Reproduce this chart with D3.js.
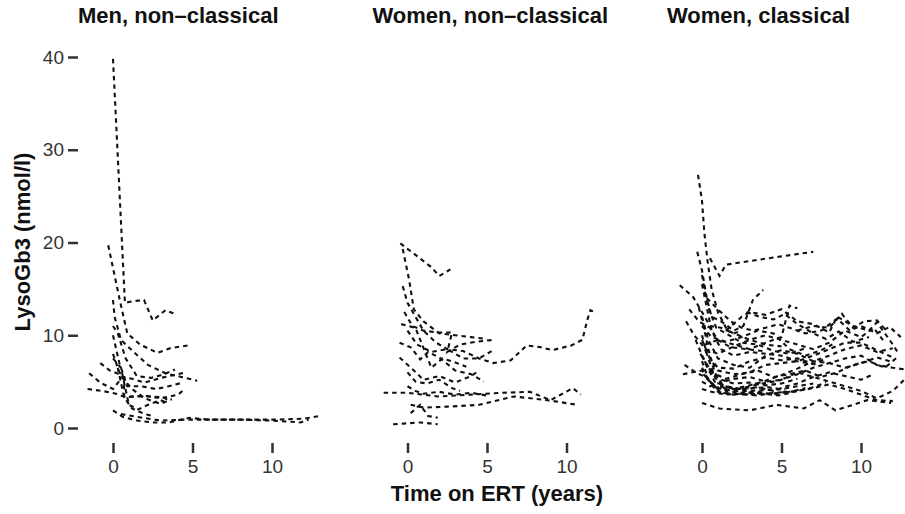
<!DOCTYPE html>
<html>
<head>
<meta charset="utf-8">
<script src="https://cdn.jsdelivr.net/npm/d3@7"></script>
<style>
    body { margin: 0; background: #fff; }
    svg { font-family: 'Liberation Sans', Arial, Helvetica, sans-serif; }
    .tick line { stroke: #333; stroke-width: 2.5; }
    .tick text { fill: #333; font-size: 19px; }
    .title { font-weight: bold; font-size: 22px; fill: #111; }
    .subject { fill: none; stroke: #111; stroke-width: 2.1; stroke-dasharray: 4.5,4; }
</style>
</head>
<body>
<div id="chart"></div>
<script>
(function(){
    'use strict';

    // each subject: [years on ERT, lysoGb3 nmol/l]
    var menNonClassical = [
        [[0,39.8],[0.75,13.5],[1.4,13.7],[1.95,13.8],[2.5,11.6],[3.3,12.7],[3.9,12.3]],
        [[-0.3,19.7],[0.45,13.6],[0.9,10.2],[1.7,9.0],[2.8,8.1],[3.6,8.6],[4.7,8.9]],
        [[0,13.8],[0.1,12],[0.5,9.5],[1.3,8.2],[2.2,6.8],[3.3,5.9],[4.3,5.5],[5.3,5.1]],
        [[0,11],[0.3,10.2],[0.8,7.5],[1.5,5.6],[2.4,5.4],[3.2,5.8],[3.9,6.3]],
        [[-1.5,5.9],[-0.8,4.9],[0,4.2],[0.6,5.5],[1.2,5.3],[2,4.9],[3,5.4],[4.6,6.0]],
        [[-1.6,4.2],[-0.7,4.0],[0.2,3.7],[0.8,3.3],[2,3.5],[3,3.2],[4.1,3.6],[4.5,4.2]],
        [[0,8],[0.4,6],[0.7,5.5],[0.7,3.4],[1.3,3.4],[2.2,3.4],[3.2,3.3],[3.6,2.8]],
        [[0,7.5],[0.5,6.5],[1,2.5],[1.6,2],[2.2,2.5],[3,3],[3.4,2.7]],
        [[0,1.9],[0.6,1.2],[1.5,0.8],[2.5,0.6],[3.5,0.6],[4.8,1.1],[6,0.9],[8,0.9],[10,0.9],[12,1.0],[13,1.3]],
        [[0.5,1.5],[1.5,1.2],[3,0.8],[4.5,0.9],[6,0.9],[8,0.9],[10,0.8],[11.8,0.6],[12.3,0.9]],
        [[0,10],[0.4,7],[0.9,4.5],[1.8,4.5],[2.7,4.2],[3.5,4.5],[4.4,4.9]],
        [[0.3,6.5],[0.7,3.3],[1.2,2.1],[2,1.5],[2.5,1.3]],
        [[-0.8,7],[-0.2,6.2],[0.4,5.8],[1.2,4.2],[2,3.2],[3,2.6],[3.7,3.1]]
    ];

    var womenNonClassical = [
        [[-0.45,19.9],[0.4,18.8],[1.45,17.4],[2,16.4],[2.7,17.1]],
        [[-0.3,19.3],[0.1,16],[0.4,12.8],[1,11.5],[2,10.2],[3,10],[4,9.8],[5,9.6]],
        [[-0.3,15.3],[0,13.5],[0.5,12],[1,10.5],[1.8,9.2],[2.5,8.5],[3.5,8.3],[4.5,7.5],[5.4,7.0],[6.5,7.3],[7.5,8.9],[8.4,8.7],[9.1,8.4],[10.3,8.9],[11,9.5],[11.3,11.6],[11.5,12.7],[11.9,12.4]],
        [[-1.5,3.8],[0,3.8],[1.9,3.4],[4,3.6],[6,3.8],[7.7,3.9],[9,3],[10.4,4.3],[10.9,3.6]],
        [[0.2,2.5],[1,2.2],[2.5,2.3],[4.5,2.5],[6.7,3.4],[8.8,3.0],[10.7,2.5]],
        [[-0.9,0.4],[0.8,0.6],[1.9,0.4]],
        [[0.2,1.6],[0.8,2.5],[1.3,1.3],[1.9,1.1]],
        [[-0.2,12.5],[0.3,11],[1,10.5],[1.9,10.3],[2.8,10.3],[2.5,8.2],[3.3,9],[4.3,9.3],[5.4,9.5]],
        [[-0.5,9.2],[0.2,8.7],[0.8,7.4],[1.3,8.2],[2,7.6],[3,6.2],[4,5.8],[4.8,5.0]],
        [[-0.5,7.6],[0.4,6.2],[1,5.2],[2,5.6],[3,4.9],[4,5.6],[4.5,6.2]],
        [[0,10.5],[0.6,9],[1.5,8.2],[2.5,8.5],[3.5,7.5],[4.5,7.5],[5.4,8.4]],
        [[-0.4,11.2],[0.5,10.8],[1.5,6.5],[2.2,7.5],[2.8,7.2],[3.7,6.6]],
        [[0,4.5],[0.5,4],[1,3.7],[2,3.9],[3,3.6],[4,3.8],[5,3.5]],
        [[0,6],[0.5,5],[1.2,4.8],[2,5.2],[2.8,4.3],[3.3,4.0]]
    ];

    var womenClassical = [
        [[-0.25,27.3],[0,24.5],[0.15,21],[0.35,18],[0.6,15],[1,12.5],[1.6,10.5],[2.3,10],[3,9.5],[4,9],[5,8.8]],
        [[0.5,18.3],[1.1,16.4],[1.5,17.6],[3,18],[5,18.5],[7,19]],
        [[-1.4,15.4],[-0.55,14.1],[0,12.5],[0.5,11],[1.2,10.8],[2,10.2],[2.5,10.5]],
        [[-0.3,19],[0,17],[0.3,14],[0.6,12],[1.2,11.5],[2,10.5],[2.6,11],[3.2,13.8],[3.85,14.9]],
        [[-1,11.5],[-0.5,10],[0,9],[0.5,7.5],[1,6.5],[2,6.4],[3,7.2],[4,7.6],[5,7.3],[6,7.5],[7.2,6.8]],
        [[-1.2,5.8],[0,6.2],[0.5,5],[1,4.3],[2,4.0],[3,4.0],[4,4.1],[5,4.2],[6,4.5],[7,4.8]],
        [[0,2.7],[1.1,2.1],[3,1.9],[4.7,2.5],[6.4,2.1],[7.4,3],[8.4,1.9],[9.5,2.5],[10.4,3],[11.9,2.7]],
        [[0,10],[0.3,8],[0.8,5.5],[1.5,4],[2.5,3.8],[3.5,3.9],[4.5,3.6],[5.5,4.0]],
        [[0,12],[0.4,9.5],[1,7.5],[2,6.8],[3,6.5],[4,7.8],[5,8.4],[6,8.0],[7,7.2],[8,7.8],[9,8.5],[10,8.9],[11,8.2],[12,8.6]],
        [[0.2,9],[1,9.5],[2,9],[3,8.5],[4,9.2],[5,9.8],[5.5,13.2],[6,12.9]],
        [[1.5,10.5],[2.5,12],[3,12.5],[4,12.2],[5,12.8],[6,11.5],[7,11.2],[8,10.3],[8.5,12],[9.5,11],[10.5,10.5],[11,11.4],[11.8,9.5],[12.3,8.2]],
        [[0,7.8],[0.6,6],[1.5,5.3],[2.5,5.8],[3.5,6.2],[4.5,5.5],[5.5,5.8],[6.5,6.2],[7.5,5.5],[8.5,6],[9.5,6.8],[10.5,7.2],[11.5,6.5],[12.4,7.8]],
        [[0,5],[0.5,4.5],[1,4.8],[2,5.3],[3,5.5],[4,5.0],[5,5.2],[6,6.0],[7,5.5],[8,5.0],[9,4.5],[10,4.0],[11,3.2],[12,4.0],[12.9,5.5]],
        [[0.2,8.5],[1,8],[2,8.8],[3,9.5],[4,10],[5,9.5],[6,9],[7,8.5],[8,9.2],[9,10.5],[10,9.8],[10.8,10.8],[11.5,9.2]],
        [[0,11],[0.6,9.8],[1.5,9.3],[2.5,9.8],[3.5,10.5],[4.5,10.2],[5.5,8.5],[6.5,7.8],[7.5,8.4],[8.2,9]],
        [[-0.4,9.5],[0.2,7],[0.8,5],[1.5,4.5],[2.5,4.2],[3.5,4.4],[4.5,4.0],[5.3,4.5],[6,4.8],[7,5.5],[8,6],[9,5.6],[10,5.2],[10.8,5.8]],
        [[0,6.5],[0.4,5.2],[1.2,3.8],[2,3.6],[3,3.8],[4,3.7],[5,3.8],[6,4.0],[7,4.3],[8,4.7],[9,4.2],[10,3.6],[11,3.0],[12,2.9]],
        [[0.3,14],[1,12.8],[1.8,11.5],[2.5,10.8],[3.2,10.5],[4,10.8],[4.8,11.2],[5.5,10.8],[6.5,10.2],[7.5,10.5],[8.5,11.8],[9.3,10.5],[10,11],[11,10.2],[11.8,10.9],[12.5,9.8]],
        [[-1.1,6.8],[-0.4,6],[0.2,5.5],[0.8,4.5],[1.4,4.4],[2.3,4.2],[3.5,4.7],[4.8,5.1],[6,5.8],[7,6.5],[8,7],[9,7.5],[10,7.8],[11,6.8],[12,6.5],[12.8,6.3]],
        [[0,15.5],[0.3,13],[0.6,10.5],[1.2,8.5],[2,7.8],[3,8.2],[4,8],[5,7.8],[6,7.2],[7,6.9],[7.8,7.5]],
        [[-0.8,12.8],[-0.2,11.5],[0.5,10.8],[1,9.5],[1.8,8.7],[2.8,8.5],[3.8,8.3]],
        [[0.1,5.8],[0.8,4.4],[2,4.2],[3,4.6],[4,5.1],[5,5.7],[6,6.4],[7,7.2],[8,7.0],[9,6.5],[10,7.0],[11,7.6],[11.8,7.2]],
        [[0,9.5],[0.5,7.5],[1,6.2],[2,5.8],[3,6],[4,6.8],[5,7],[6,7.2],[7,7.8],[8,8.5],[9,9.2],[10,9.2],[11,8.4],[12,7.6]],
        [[6,10.5],[7,11],[8,10.8],[8.8,12.3],[9.5,10.8],[10.2,11.5],[11,11.6],[11.6,10.5]],
        [[0,4.2],[0.6,3.9],[1.5,3.6],[2.5,3.7],[3.5,3.5],[4.5,3.8],[5.5,3.9],[6.5,4.3]],
        [[-0.2,13],[0.1,11],[0.4,8.5],[0.8,6],[1.3,4.6],[2.2,4.1],[3.2,4.3],[4.2,4.4],[5.2,4.1]],
        [[0,16.5],[0.2,14.5],[0.5,12.5],[0.9,10.8],[1.5,10.2],[2.5,9.2],[3.5,9.0],[4.5,8.3],[5.5,8.0],[6.5,8.6]],
        [[-0.1,8],[0.3,6.8],[0.7,5.8],[1.2,5.2],[2,4.8],[3,4.9],[4,4.6],[5,4.8],[6,5.3]],
        [[2.8,12.5],[3.6,12.0],[4.5,11.7],[5.2,12.3],[6,11.2],[7,10.2],[7.8,9.6],[8.6,10.4],[9.5,9.3],[10.5,9.8]],
        [[0,7.2],[0.5,4.8],[1,3.9],[1.8,3.7],[2.8,3.6],[3.8,3.7],[4.8,3.5],[5.8,3.9],[6.8,4.3],[7.8,4.9]]
    ];

    var panelTitles = ['Men, non\u2013classical', 'Women, non\u2013classical', 'Women, classical'];
    var xTicks = [0, 5, 10];
    var yTicks = [0, 10, 20, 30, 40];

    var panels = [menNonClassical, womenNonClassical, womenClassical];

    var width = 905, height = 514;
    var panelStep = 294.5,
        zeroX = 113,
        tenWidth = 159,
        panelLeft = 78;

    var svg = d3.select('#chart').append('svg')
        .attr('width', width)
        .attr('height', height);

    var y = d3.scaleLinear().domain([0, 40]).range([428, 57]);

    var line = d3.line();

    svg.append('g')
        .attr('transform', 'translate(78,0)')
        .call(d3.axisLeft(y).tickValues(yTicks).tickSize(10).tickPadding(4))
        .call(function (g) { g.select('.domain').remove(); });

    panels.forEach(function (subjects, i) {
        var x0 = zeroX + i * panelStep;
        var x = d3.scaleLinear().domain([0, 10]).range([x0, x0 + tenWidth]);

        line.x(function (d) { return x(d[0]); })
            .y(function (d) { return y(d[1]); });

        var g = svg.append('g');

        g.selectAll('path.subject')
            .data(subjects)
            .enter().append('path')
            .attr('class', 'subject')
            .attr('d', line);

        g.append('g')
            .attr('transform', 'translate(0,443)')
            .call(d3.axisBottom(x).tickValues(xTicks).tickSize(10).tickPadding(7))
            .call(function (a) { a.select('.domain').remove(); });

        g.append('text')
            .attr('class', 'title')
            .attr('x', panelLeft + i * panelStep)
            .attr('y', 23)
            .text(panelTitles[i]);
    });

    svg.selectAll('.tick text').attr('font-size', null).attr('font-family', null);

    svg.append('text')
        .attr('class', 'title')
        .attr('text-anchor', 'middle')
        .attr('x', 497)
        .attr('y', 501)
        .text('Time on ERT (years)');

    svg.append('text')
        .attr('class', 'title')
        .attr('text-anchor', 'middle')
        .attr('transform', 'translate(30,242) rotate(-90)')
        .text('LysoGb3 (nmol/l)');
})();
</script>
</body>
</html>
